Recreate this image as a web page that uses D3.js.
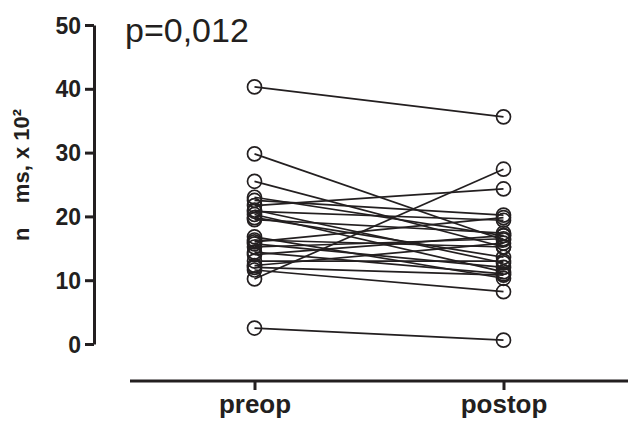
<!DOCTYPE html>
<html><head><meta charset="utf-8">
<script src="https://cdn.jsdelivr.net/npm/d3@7"></script>
<style>body{margin:0;background:#fff;} svg{display:block;}</style>
</head><body>
<svg id="c" width="628" height="422"></svg>
<script>
const categories = ["preop", "postop"];
const preop  = [40.3, 29.8, 25.5, 23.0, 22.5, 21.7, 21.0, 20.8, 20.3, 19.8, 19.5, 16.8, 16.3, 16.0, 15.7, 15.2, 14.4, 14.0, 13.0, 12.3, 12.0, 11.6, 10.2, 2.5];
const postop = [35.6, 16.3, 15.2, 17.0, 20.2, 24.3, 12.7, 19.4, 11.3, 13.6, 17.4, 10.3, 15.2, 19.8, 12.0, 16.5, 11.0, 17.0, 13.0, 15.8, 10.8, 8.2, 27.4, 0.6];
const yTicks = [0, 10, 20, 30, 40, 50];
const pText = "p=0,012";
const yLabel = "n    ms, x 10²";

const svg = d3.select("#c");
const font = "'Liberation Sans', Arial, sans-serif";
const ink = "#231f20";
const x = d3.scalePoint().domain(categories).range([130, 628]).padding(0.5);
const y = d3.scaleLinear().domain([0, 50]).range([344, 25]);

// y axis
const ya = svg.append("g").attr("transform", "translate(94,0)")
  .call(d3.axisLeft(y).tickValues(yTicks).tickSize(9).tickSizeOuter(0).tickPadding(4).tickFormat(d3.format("d")));
ya.attr("font-family", font).attr("font-size", 23);
ya.selectAll("path,line").attr("stroke", ink).attr("stroke-width", 3);
ya.selectAll("text").attr("font-weight", "bold").attr("fill", ink).attr("dy", "0.35em");

// x axis
const xa = svg.append("g").attr("transform", "translate(0,381)")
  .call(d3.axisBottom(x).tickSize(9).tickSizeOuter(0).tickPadding(6));
xa.attr("font-family", font).attr("font-size", 26);
xa.select("path").attr("d", "M130,0H628");
xa.selectAll("path,line").attr("stroke", ink).attr("stroke-width", 3);
xa.selectAll("text").attr("font-weight", "bold").attr("fill", ink).attr("dy", null).attr("y", 32);

// lines
const pairs = preop.map((v, i) => [v, postop[i]]);
svg.append("g").selectAll("line").data(pairs).join("line")
  .attr("x1", x("preop")).attr("x2", x("postop"))
  .attr("y1", d => y(d[0])).attr("y2", d => y(d[1]))
  .attr("stroke", ink).attr("stroke-width", 1.7);

// circles
const g = svg.append("g");
g.selectAll("circle.pre").data(preop).join("circle").attr("class", "pre")
  .attr("cx", x("preop")).attr("cy", d => y(d)).attr("r", 7)
  .attr("fill", "none").attr("stroke", ink).attr("stroke-width", 1.7);
g.selectAll("circle.post").data(postop).join("circle").attr("class", "post")
  .attr("cx", x("postop")).attr("cy", d => y(d)).attr("r", 7)
  .attr("fill", "none").attr("stroke", ink).attr("stroke-width", 1.7);

// p text
svg.append("text").attr("x", 125).attr("y", 42).attr("font-family", font)
  .attr("font-size", 34).attr("fill", ink).text(pText);

// y label
svg.append("text").attr("transform", "translate(29,175) rotate(-90)")
  .attr("text-anchor", "middle").attr("font-family", font).attr("font-weight", "bold")
  .attr("font-size", 22).attr("fill", ink)
  .style("white-space", "pre").text(yLabel);
</script>
</body></html>
